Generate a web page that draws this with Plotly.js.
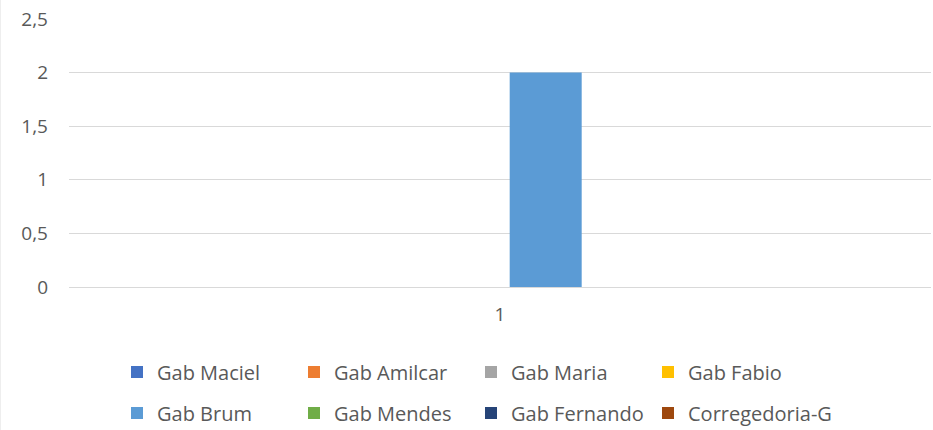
<!DOCTYPE html>
<html>
<head>
<meta charset="utf-8">
<script src="https://cdn.plot.ly/plotly-3.0.1.min.js"></script>
<style>
  html, body { margin: 0; padding: 0; background: #ffffff; }
  #chart { width: 933px; height: 430px; }
</style>
</head>
<body>
<div id="chart"></div>
<script>
// ---- data ----
const categories = ['1'];
const seriesNames = ['Gab Maciel', 'Gab Amilcar', 'Gab Maria', 'Gab Fabio',
                     'Gab Brum', 'Gab Mendes', 'Gab Fernando', 'Corregedoria-G'];
const seriesValues = [[0], [0], [0], [0], [2], [0], [0], [0]];
const seriesColors = ['#4472C4', '#ED7D31', '#A5A5A5', '#FFC000',
                      '#5B9BD5', '#70AD47', '#264478', '#9E480E'];
const yTicks = [0, 0.5, 1, 1.5, 2, 2.5];

// ---- traces ----
const traces = seriesNames.map((name, i) => ({
  type: 'bar',
  name: name,
  x: categories,
  y: seriesValues[i],
  marker: { color: seriesColors[i], line: { width: 0 } },
  legend: i < 4 ? 'legend' : 'legend2',
  legendwidth: (i % 4 === 3) ? 170 : 132,
  hoverinfo: 'name+y'
}));

const txtColor = '#595959';
const fontFam = '"Open Sans", "Liberation Sans", sans-serif';
const legendCommon = {
  orientation: 'h',
  xref: 'container', yref: 'container',
  x: 117 / 933, xanchor: 'left',
  yanchor: 'middle',
  font: { family: fontFam, size: 20, color: txtColor },
  entrywidth: 132, entrywidthmode: 'pixels',
  bgcolor: 'rgba(0,0,0,0)', borderwidth: 0,
  traceorder: 'normal'
};

const layout = {
  width: 933, height: 430,
  paper_bgcolor: '#ffffff', plot_bgcolor: '#ffffff',
  margin: { l: 69, r: 2, t: 19, b: 143, pad: 0 },
  separators: ',.',
  barmode: 'group',
  bargap: 0.152,
  bargroupgap: 0.212,
  font: { family: fontFam, color: txtColor },
  xaxis: {
    type: 'category',
    range: [-0.5, 0.5],
    showgrid: false, zeroline: false, showline: false,
    ticks: '',
    ticklabelstandoff: 14,
    tickfont: { family: fontFam, size: 19, color: txtColor },
    fixedrange: true
  },
  yaxis: {
    range: [0, 2.5],
    tickvals: yTicks,
    showgrid: true, gridcolor: '#d9d9d9', gridwidth: 1.3,
    zeroline: true, zerolinecolor: '#d9d9d9', zerolinewidth: 1.3,
    showline: false, ticks: '',
    ticklabelstandoff: 20,
    tickfont: { family: fontFam, size: 19, color: txtColor },
    fixedrange: true
  },
  shapes: [{
    type: 'line', xref: 'paper', yref: 'paper',
    x0: -68.5 / 862, x1: -68.5 / 862, y0: -143 / 268, y1: 1 + 19 / 268,
    line: { color: '#eeeeee', width: 1 }
  }],
  legend: Object.assign({}, legendCommon, { y: 1 - 372 / 430 }),
  legend2: Object.assign({}, legendCommon, { y: 1 - 413 / 430 }),
  showlegend: true
};

Plotly.newPlot('chart', traces, layout, { displayModeBar: false, staticPlot: false });
</script>
</body>
</html>
